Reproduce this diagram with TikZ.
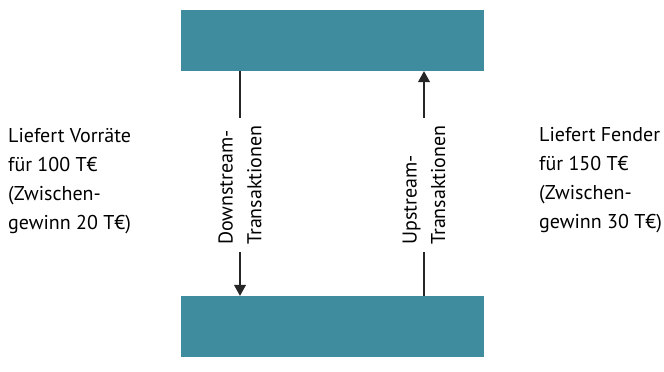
\documentclass[tikz,border=0pt]{standalone}
\usepackage{fontspec}
\setmainfont{PT Sans}
\usetikzlibrary{arrows.meta}
\definecolor{unitteal}{HTML}{408C9F}
\begin{document}
\begin{tikzpicture}
            [
                x = 1pt, y = -1pt,
                every node/.style = {font=\fontsize{20}{28.7}\selectfont},
                unit/.style = {rectangle, fill=unitteal, inner sep=0pt,
                minimum width=303pt, minimum height=61pt},
                side/.style = {align=left, anchor=base west, inner sep=0pt},
                flowlabel/.style = {rotate=90, align=left, inner xsep=7pt,
                inner ysep=0pt},
                flow/.style = {line width=1.1pt, draw=black!85},
                tip/.style = {-{Triangle[width=12pt,length=11pt]}}
            ]
            \useasboundingbox (0,0) rectangle (664,372);
            \node [unit] (parent) at (332.5,40.5) {};
            \node [unit] (sub) at (332.5,326.5) {};
            \node [flowlabel] (down) at (240,185) {Downstream-\\Transaktionen};
            \node [flowlabel] (up) at (424,185) {Upstream-\\Transaktionen};
            % downstream: parent to subsidiary
            \draw [flow] (parent.south -| down.east) -- (down.east);
            \draw [flow, tip] (down.west) -- (sub.north -| down.west);
            % upstream: subsidiary to parent
            \draw [flow] (sub.north -| up.west) -- (up.west);
            \draw [flow, tip] (up.east) -- (parent.south -| up.east);
            \node [side] (left) at (8,229)
                {Liefert Vorräte\\für 100 T€\\(Zwischen-\\gewinn 20 T€)};
            \node [side] (right) at (539,228)
                {Liefert Fender\\für 150 T€\\(Zwischen-\\gewinn 30 T€)};
        \end{tikzpicture}
\end{document}
